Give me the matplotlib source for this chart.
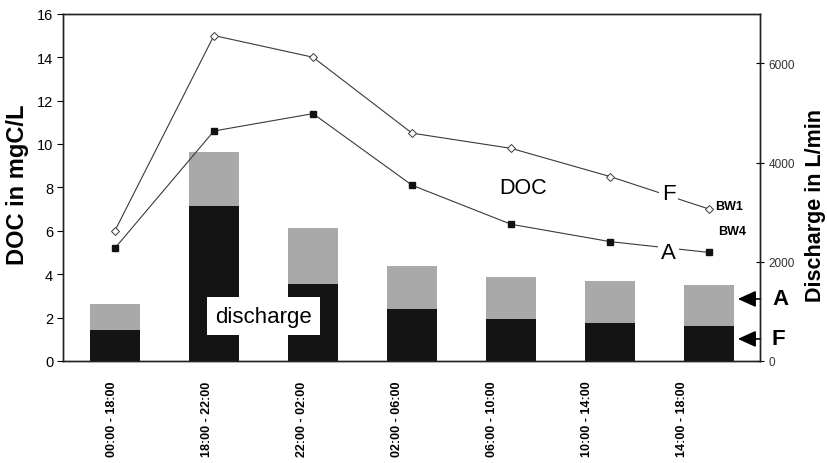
import numpy as np
import matplotlib.pyplot as plt

plt.rcParams['font.family'] = ['Liberation Sans', 'DejaVu Sans']

# ── data ──────────────────────────────────────────────────────────────────────
periods = ['00:00 - 18:00', '18:00 - 22:00', '22:00 - 02:00', '02:00 - 06:00',
           '06:00 - 10:00', '10:00 - 14:00', '14:00 - 18:00']
doc_bw1 = [6.0, 15.0, 14.0, 10.5, 9.8, 8.5, 7.0]      # mgC/L, open diamonds
doc_bw4 = [5.2, 10.6, 11.4, 8.1, 6.3, 5.5, 5.0]       # mgC/L, filled squares
q_A = [1140, 4220, 2690, 1920, 1700, 1620, 1530]      # L/min, grey
q_F = [630, 3130, 1550, 1050, 850, 770, 700]          # L/min, black

x = np.arange(len(periods))

fig = plt.figure(figsize=(8.28, 4.64), dpi=100)
ax = fig.add_axes([0.076, 0.22, 0.842, 0.748])
ax2 = ax.twinx()

# ── discharge bars (right axis) ───────────────────────────────────────────────
ax2.bar(x, q_A, width=0.5, color='#a9a9a9', zorder=1)
ax2.bar(x, q_F, width=0.5, color='#141414', zorder=2)
ax2.set_ylim(0, 7000)
ax2.set_yticks([0, 2000, 4000, 6000])
ax2.tick_params(axis='y', direction='inout', length=6, width=0.8,
                labelsize=8.5, pad=3, labelcolor='#333333')

# arrows marking the A / F bar parts
for yv, lbl in [(1250, 'A'), (444, 'F')]:
    ax2.annotate('', xy=(6.29, yv), xytext=(6.52, yv), xycoords='data',
                 arrowprops=dict(arrowstyle='-|>,head_length=1.1,head_width=0.5',
                                 color='black', lw=1.2, shrinkA=0, shrinkB=0),
                 annotation_clip=False)
    ax2.text(1.017, yv, lbl, transform=ax2.get_yaxis_transform(),
             fontsize=16, fontweight='bold', ha='left', va='center', clip_on=False)

# ── DOC lines (left axis, drawn on top) ───────────────────────────────────────
ax.set_zorder(ax2.get_zorder() + 1)
ax.patch.set_visible(False)
ax.plot(x, doc_bw1, color='#3a3a3a', lw=0.8, marker='D', ms=4,
        mfc='white', mec='#3a3a3a', mew=0.7, zorder=3)
ax.plot(x, doc_bw4, color='#3a3a3a', lw=0.8, marker='s', ms=5,
        mfc='#111111', mec='#111111', zorder=3)

ax.text(5.59, 7.7, 'F', fontsize=16, ha='center', va='center', zorder=5,
        bbox=dict(facecolor='white', edgecolor='none', pad=2))
ax.text(5.59, 4.98, 'A', fontsize=16, ha='center', va='center', zorder=5,
        bbox=dict(facecolor='white', edgecolor='none', pad=2))
ax.text(6.06, 7.14, 'BW1', fontsize=9, fontweight='bold', ha='left', va='center')
ax.text(6.09, 6.0, 'BW4', fontsize=9, fontweight='bold', ha='left', va='center')
ax.text(4.12, 8.0, 'DOC', fontsize=15.5, ha='center', va='center')
ax.text(1.5, 2.07, 'discharge', fontsize=16, ha='center', va='center', zorder=6,
        bbox=dict(facecolor='white', edgecolor='none', pad=6))

ax.set_xlim(-0.525, 6.515)
ax.set_ylim(0, 16)
ax.set_yticks(np.arange(0, 17, 2))
ax.tick_params(axis='y', direction='out', length=4, width=0.8, labelsize=10.5, pad=3)
ax.set_xticks(x * 0.96 - 0.03)
ax.set_xticklabels(periods, rotation=90, fontsize=9, fontweight='bold')
ax.tick_params(axis='x', length=0, pad=14)

fig.text(18 / 828, 1 - 185 / 464, 'DOC in mgC/L', rotation=90, fontsize=17,
         fontweight='bold', ha='center', va='center')
fig.text(816 / 828, 1 - 206 / 464, 'Discharge in L/min', rotation=90, fontsize=15.5,
         fontweight='bold', ha='center', va='center')

for a in (ax, ax2):
    for s in a.spines.values():
        s.set_linewidth(1.0)
        s.set_color('#222222')

fig.savefig('out.png', dpi=100)
